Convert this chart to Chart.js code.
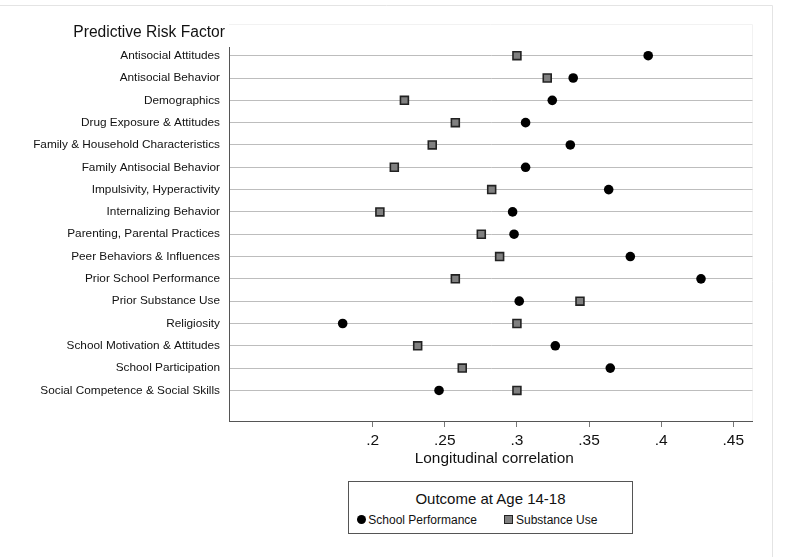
<!DOCTYPE html>
<html>
<head>
<meta charset="utf-8">
<script src="https://cdn.jsdelivr.net/npm/chart.js@4"></script>
<style>
    body { margin: 0; background: #fff; }
    #wrap { position: relative; width: 800px; height: 557px; font-family: "Liberation Sans", Arial, sans-serif; color: #111; }
    #legend { position: absolute; left: 348px; top: 481px; width: 285px; height: 53px; box-sizing: border-box; border: 1px solid #555; background: #fff; }
    #legend div, #legend span { position: absolute; white-space: nowrap; }
    .legend-title { left: 0; width: 283px; top: 9px; text-align: center; font-size: 15px; line-height: 15px; }
    .legend-text { font-size: 12px; line-height: 12px; top: 31.6px; }
    .dot { width: 9.4px; height: 9.4px; border-radius: 50%; background: #000; top: 32.9px; }
    .box { width: 8.4px; height: 8.4px; box-sizing: border-box; background: #808080; border: 1.5px solid #222; top: 33.4px; }
</style>
</head>
<body>
<div id="wrap">
    <canvas id="chart" width="800" height="557"></canvas>
    <div id="legend">
        <div class="legend-title">Outcome at Age 14-18</div>
        <span class="dot" style="left:7.6px"></span>
        <span class="legend-text" style="left:19.3px">School Performance</span>
        <span class="box" style="left:155.3px"></span>
        <span class="legend-text" style="left:167px">Substance Use</span>
    </div>
</div>
<script>
const riskFactors = [
    'Antisocial Attitudes',
    'Antisocial Behavior',
    'Demographics',
    'Drug Exposure & Attitudes',
    'Family & Household Characteristics',
    'Family Antisocial Behavior',
    'Impulsivity, Hyperactivity',
    'Internalizing Behavior',
    'Parenting, Parental Practices',
    'Peer Behaviors & Influences',
    'Prior School Performance',
    'Prior Substance Use',
    'Religiosity',
    'School Motivation & Attitudes',
    'School Participation',
    'Social Competence & Social Skills'
];
const schoolPerformance = [0.391, 0.339, 0.3245, 0.306, 0.337, 0.306, 0.3636, 0.297, 0.298, 0.3786, 0.4276, 0.3016, 0.1792, 0.3266, 0.3647, 0.246];
const substanceUse = [0.300, 0.321, 0.222, 0.2573, 0.2413, 0.215, 0.2825, 0.205, 0.2753, 0.288, 0.2573, 0.3437, 0.300, 0.2312, 0.2621, 0.300];
const xTicks = [0.2, 0.25, 0.3, 0.35, 0.4, 0.45];

const FONT = '"Liberation Sans", Arial, sans-serif';

const toPoints = (values) => values.map((v, i) => ({ x: v, y: i }));

const frameAndTitles = {
    id: 'frameAndTitles',
    beforeDraw: (chart) => {
        const ctx = chart.ctx;
        const area = chart.chartArea;
        ctx.save();
        // outer graph region
        ctx.strokeStyle = '#e4e4e4';
        ctx.lineWidth = 1;
        ctx.beginPath();
        ctx.moveTo(0, 5.5);
        ctx.lineTo(772.5, 5.5);
        ctx.lineTo(772.5, 557);
        ctx.stroke();
        // faint plot region
        ctx.strokeStyle = '#f2f2f2';
        ctx.beginPath();
        ctx.moveTo(area.left, 24.5);
        ctx.lineTo(area.right, 24.5);
        ctx.lineTo(area.right, area.bottom);
        ctx.stroke();
        ctx.restore();
    },
    afterDraw: (chart) => {
        const ctx = chart.ctx;
        ctx.save();
        ctx.fillStyle = '#111';
        ctx.textBaseline = 'alphabetic';
        ctx.font = '15.6px ' + FONT;
        ctx.textAlign = 'left';
        ctx.fillText('Predictive Risk Factor', 73.3, 37.3);
        ctx.font = '15.4px ' + FONT;
        ctx.textAlign = 'center';
        ctx.fillText('Longitudinal correlation', 494.3, 462.7);
        ctx.restore();
    }
};

const chart = new Chart(document.getElementById('chart').getContext('2d'), {
    type: 'scatter',
    data: {
        datasets: [
            {
                label: 'School Performance',
                data: toPoints(schoolPerformance),
                pointStyle: 'circle',
                pointRadius: 4.8,
                pointHoverRadius: 4.8,
                backgroundColor: '#000',
                borderColor: '#000',
                borderWidth: 0,
            },
            {
                label: 'Substance Use',
                data: toPoints(substanceUse),
                pointStyle: 'rect',
                pointRadius: 5.6,
                pointHoverRadius: 5.6,
                backgroundColor: '#808080',
                borderColor: '#222',
                borderWidth: 1.6,
            },
        ],
    },
    options: {
        responsive: false,
        animation: false,
        devicePixelRatio: 1,
        layout: { padding: { left: 0, right: 47.5, top: 47, bottom: 0 } },
        plugins: {
            legend: { display: false },
            tooltip: { enabled: false },
        },
        scales: {
            x: {
                type: 'linear',
                min: 0.1004,
                max: 0.4633,
                afterBuildTicks: (scale) => { scale.ticks = xTicks.map(v => ({ value: v })); },
                afterFit: (scale) => { scale.height = 136; },
                grid: { drawOnChartArea: false, drawTicks: true, tickLength: 6, tickColor: '#777' },
                border: { display: true, color: '#555', width: 1 },
                ticks: {
                    padding: 4,
                    color: '#111',
                    font: { family: FONT, size: 15.5 },
                    maxRotation: 0,
                    callback: (v) => String(v).replace(/^0/, ''),
                },
            },
            y: {
                type: 'linear',
                reverse: true,
                min: -0.39,
                max: 16.37,
                afterBuildTicks: (scale) => { scale.ticks = riskFactors.map((c, i) => ({ value: i })); },
                afterFit: (scale) => { scale.width = 229; },
                grid: { color: '#bdbdbd', lineWidth: 1, drawTicks: false },
                border: { display: true, color: '#555', width: 1 },
                ticks: {
                    padding: 9,
                    color: '#111',
                    font: { family: FONT, size: 11.8 },
                    callback: (v) => riskFactors[v],
                },
            },
        },
    },
    plugins: [frameAndTitles],
});
</script>
</body>
</html>
